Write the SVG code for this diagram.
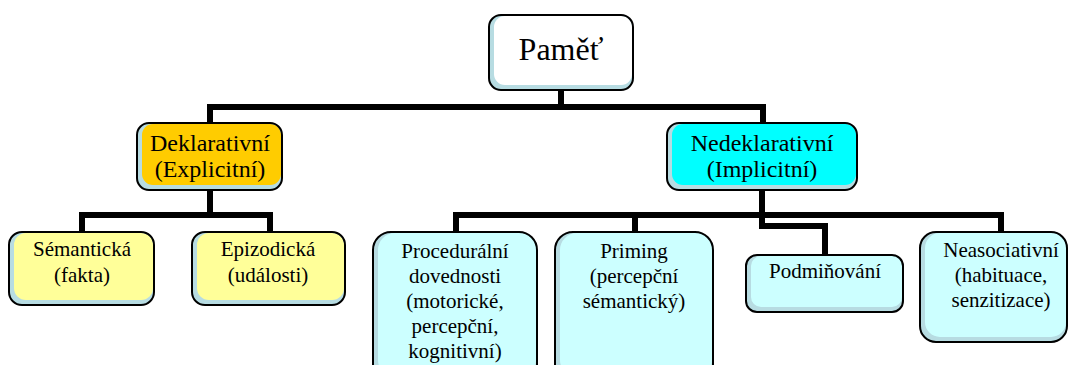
<svg xmlns="http://www.w3.org/2000/svg" width="1071" height="365" viewBox="0 0 1071 365">
<style>
.bev{fill:#b7dce2;stroke:none}
.out{fill:none;stroke:#000;stroke-width:2}
text{font-family:'Liberation Serif','Times New Roman','DejaVu Serif',serif;fill:#000;text-anchor:middle}
.t1{font-size:21px}
.t2{font-size:24px}
.t0{font-size:32px}
.con{fill:none;stroke:#000;stroke-width:6;stroke-linejoin:miter;stroke-linecap:butt}
</style>
<g id="connectors">
<path class="con" d="M561 90V107M210 123V107H763V123"/>
<path class="con" d="M210 190V215M82 232V215H270V232"/>
<path class="con" d="M456 232V215H1001V232M635 215V232"/>
<path class="con" d="M762 190V226H825V255"/>
</g>
<g id="pamet">
<rect class="bev" x="489" y="15" width="144" height="75" rx="12"/>
<rect x="494" y="16" width="138" height="69" rx="11" fill="#fff"/>
<rect class="out" x="489" y="15" width="144" height="75" rx="12"/>
<text class="t0" x="561" y="60" font-family="Liberation Serif, serif">Paměť</text>
</g>
<g id="deklarativni">
<rect class="bev" x="137" y="123" width="145" height="67" rx="12"/>
<rect x="142" y="124" width="139" height="61" rx="11" fill="#ffcc00"/>
<rect class="out" x="137" y="123" width="145" height="67" rx="12"/>
<text class="t2" x="210" y="151">Deklarativní</text>
<text class="t2" x="210" y="177">(Explicitní)</text>
</g>
<g id="nedeklarativni">
<rect class="bev" x="667" y="123" width="190" height="67" rx="12"/>
<rect x="672" y="124" width="184" height="61" rx="11" fill="#00ffff"/>
<rect class="out" x="667" y="123" width="190" height="67" rx="12"/>
<text class="t2" x="762" y="151">Nedeklarativní</text>
<text class="t2" x="762" y="177">(Implicitní)</text>
</g>
<g id="semanticka">
<rect class="bev" x="9" y="232" width="145" height="73" rx="13"/>
<rect x="14" y="233" width="139" height="67" rx="12" fill="#ffff99"/>
<rect class="out" x="9" y="232" width="145" height="73" rx="13"/>
<text class="t1" x="82" y="256">Sémantická</text>
<text class="t1" x="82" y="282">(fakta)</text>
</g>
<g id="epizodicka">
<rect class="bev" x="192" y="232" width="153" height="73" rx="13"/>
<rect x="197" y="233" width="147" height="67" rx="12" fill="#ffff99"/>
<rect class="out" x="192" y="232" width="153" height="73" rx="13"/>
<text class="t1" x="268" y="256">Epizodická</text>
<text class="t1" x="268" y="282">(události)</text>
</g>
<g id="proceduralni">
<rect class="bev" x="373" y="232" width="164" height="150" rx="18"/>
<rect x="378" y="233" width="158" height="144" rx="17" fill="#ccffff"/>
<rect class="out" x="373" y="232" width="164" height="150" rx="18"/>
<text class="t1" x="455" y="258">Procedurální</text>
<text class="t1" x="455" y="283">dovednosti</text>
<text class="t1" x="455" y="308">(motorické,</text>
<text class="t1" x="455" y="333">percepční,</text>
<text class="t1" x="455" y="358">kognitivní)</text>
</g>
<g id="priming">
<rect class="bev" x="555" y="232" width="158" height="150" rx="18"/>
<rect x="560" y="233" width="152" height="144" rx="17" fill="#ccffff"/>
<rect class="out" x="555" y="232" width="158" height="150" rx="18"/>
<text class="t1" x="634" y="258">Priming</text>
<text class="t1" x="634" y="283">(percepční</text>
<text class="t1" x="634" y="308">sémantický)</text>
</g>
<g id="podminovani">
<rect class="bev" x="746" y="255" width="157" height="57" rx="11"/>
<rect x="751" y="256" width="151" height="51" rx="10" fill="#ccffff"/>
<rect class="out" x="746" y="255" width="157" height="57" rx="11"/>
<text class="t1" x="825" y="278">Podmiňování</text>
</g>
<g id="neasociativni">
<rect class="bev" x="920" y="232" width="147" height="110" rx="16"/>
<rect x="925" y="233" width="141" height="104" rx="15" fill="#ccffff"/>
<rect class="out" x="920" y="232" width="147" height="110" rx="16"/>
<text class="t1" x="1001" y="257">Neasociativní</text>
<text class="t1" x="1001" y="282">(habituace,</text>
<text class="t1" x="1001" y="307">senzitizace)</text>
</g>
</svg>
